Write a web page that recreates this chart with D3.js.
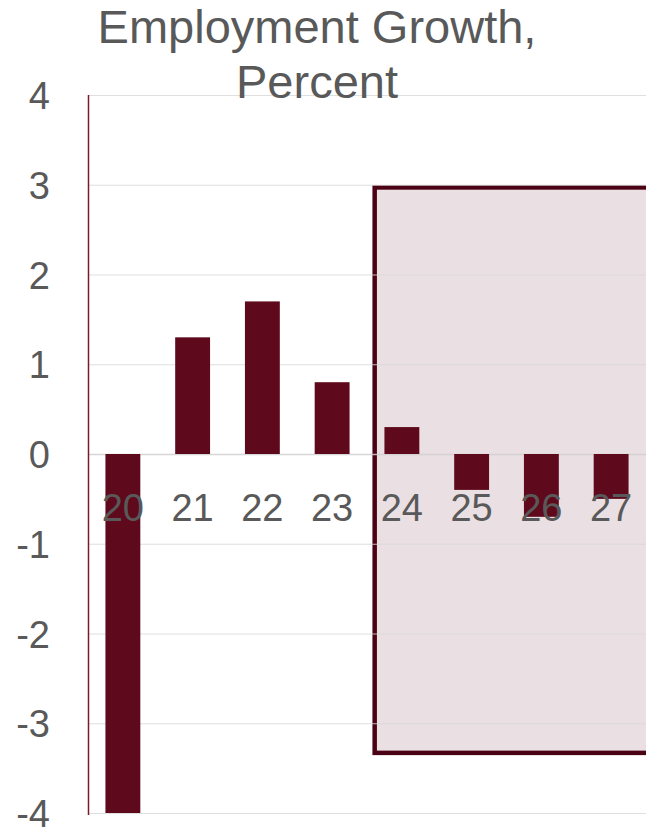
<!DOCTYPE html>
<html>
<head>
<meta charset="utf-8">
<script src="https://cdn.jsdelivr.net/npm/d3@7/dist/d3.min.js"></script>
<style>
  html, body { margin: 0; padding: 0; background: #fff; }
  svg { display: block; font-family: "Liberation Sans", Arial, sans-serif; }
</style>
</head>
<body>
<script>
// data
const years = ["20", "21", "22", "23", "24", "25", "26", "27"];
const growth = [-4.0, 1.3, 1.7, 0.8, 0.3, -0.4, -0.7, -0.5];
const yTicks = [-4, -3, -2, -1, 0, 1, 2, 3, 4];
const titleLines = ["Employment Growth,", "Percent"];
// shaded forecast box: starts at year "24", spans these values
const boxStart = "24";
const boxRange = [2.97, -3.33];

const W = 646, H = 832;
const mg = { t: 95, b: 19, l: 88, r: 0 };

const svg = d3.select("body").append("svg")
  .attr("width", W)
  .attr("height", H);

const x = d3.scaleBand()
  .domain(years)
  .range([mg.l, W - mg.r])
  .paddingInner(0.5)
  .paddingOuter(0.25);

const y = d3.scaleLinear()
  .domain([-4, 4])
  .range([H - mg.b, mg.t]);

// shaded box behind everything
const step = x.step();
const boxX = x(boxStart) - step * 0.25 + step * 0.11;
svg.append("rect")
  .attr("x", boxX)
  .attr("y", y(boxRange[0]))
  .attr("width", W - boxX + 30)
  .attr("height", y(boxRange[1]) - y(boxRange[0]))
  .attr("fill", "#eadfe2")
  .attr("stroke", "#4a0214")
  .attr("stroke-width", 4.5);

// gridlines via axis
const yAxis = svg.append("g")
  .attr("transform", `translate(${mg.l},0)`)
  .call(d3.axisRight(y).tickValues(yTicks).tickSize(W - mg.l).tickFormat(""));
yAxis.select(".domain").remove();
yAxis.selectAll(".tick line")
  .attr("stroke", (d) => d === 0 ? "#d0d0d0" : "#d9d9d9")
  .attr("stroke-width", (d) => d === 0 ? 1.5 : 1.2)
  .attr("stroke-opacity", 0.85);

// y labels, plain hyphen for negatives
const yLab = svg.append("g")
  .attr("transform", `translate(50,0)`)
  .call(d3.axisLeft(y).tickValues(yTicks).tickSize(0).tickPadding(0).tickFormat((d) => String(d)));
yLab.select(".domain").remove();
yLab.selectAll("text")
  .attr("font-size", 38)
  .attr("fill", "#595959")
  .attr("font-family", "Liberation Sans, Arial, sans-serif")
  .attr("dy", "0.36em");

// bars
svg.append("g")
  .selectAll("rect")
  .data(years)
  .join("rect")
  .attr("x", (d) => x(d))
  .attr("width", x.bandwidth())
  .attr("y", (d, i) => y(Math.max(0, growth[i])))
  .attr("height", (d, i) => Math.abs(y(growth[i]) - y(0)))
  .attr("fill", "#5e0a1c");

// vertical axis line
svg.append("line")
  .attr("x1", mg.l + 0.5).attr("x2", mg.l + 0.5)
  .attr("y1", y(4)).attr("y2", y(-4) + 2)
  .attr("stroke", "#7a1a2e")
  .attr("stroke-width", 1.5);

// category labels sit just under zero line
const xAxis = svg.append("g")
  .attr("transform", `translate(0,${y(0)})`)
  .call(d3.axisBottom(x).tickSize(0).tickPadding(0));
xAxis.select(".domain").remove();
xAxis.selectAll("text")
  .attr("font-size", 38)
  .attr("fill", "#595959")
  .attr("font-family", "Liberation Sans, Arial, sans-serif")
  .attr("dy", "1.75em");

// title
const title = svg.append("text")
  .attr("text-anchor", "middle")
  .attr("font-size", 47)
  .attr("fill", "#595959");
title.selectAll("tspan")
  .data(titleLines)
  .join("tspan")
  .attr("x", 317)
  .attr("y", (d, i) => 43 + i * 55)
  .text((d) => d);
</script>
</body>
</html>
